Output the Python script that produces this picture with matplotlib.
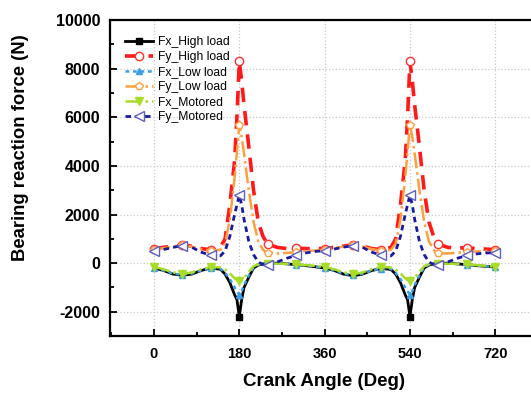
import matplotlib.pyplot as plt
from matplotlib.ticker import MultipleLocator

plt.rcParams['font.family'] = ['Liberation Sans', 'DejaVu Sans']
plt.rcParams['axes.unicode_minus'] = False

# crank angle (deg), finer near firing peaks
angle = [0, 20, 40, 60, 80, 100, 120, 140, 150, 160, 170, 175, 180, 185, 190, 200, 210, 220,
         230, 240, 260, 280, 300, 320, 340, 360,
         380, 400, 420, 440, 460, 480, 500, 510, 520, 530, 535, 540, 545, 550, 560, 570, 580,
         590, 600, 620, 640, 660, 680, 700, 720]

fx_high = [-200, -300, -450, -500, -450, -300, -200, -250, -450, -800, -1300, -1500, -2200,
           -1500, -1000, -580, -200, -80, -30, 0, 0, -30, -60, -100, -150, -200,
           -300, -450, -520, -450, -300, -220, -260, -450, -800, -1300, -1500, -2200, -1500,
           -1000, -580, -200, -80, -30, 0, 0, -30, -60, -100, -130, -160]
fy_high = [600, 650, 700, 750, 700, 600, 550, 650, 1000, 2400, 4200, 6000, 8300, 7500, 6500,
           4800, 3000, 1700, 1100, 780, 650, 600, 620, 600, 600, 600,
           650, 700, 760, 700, 600, 550, 650, 1000, 2400, 4200, 6000, 8300, 7500, 6500, 4800,
           3000, 1700, 1100, 780, 650, 620, 640, 600, 580, 550]
fx_low = [-200, -300, -430, -480, -430, -300, -200, -230, -400, -650, -1000, -1150, -1300,
          -1150, -900, -500, -180, -60, -20, 0, 0, -30, -60, -100, -150, -200,
          -300, -430, -500, -430, -300, -220, -230, -400, -650, -1000, -1150, -1300, -1150,
          -900, -500, -180, -60, -20, 0, 0, -30, -60, -100, -130, -160]
fy_low = [550, 620, 680, 730, 680, 580, 500, 550, 800, 1800, 3500, 4600, 5700, 5200, 4500,
          3000, 1700, 900, 550, 400, 400, 420, 450, 500, 520, 550,
          620, 680, 740, 680, 580, 500, 550, 800, 1800, 3500, 4600, 5700, 5200, 4500, 3000,
          1700, 900, 550, 400, 400, 430, 450, 480, 500, 500]
fx_mot = [-150, -250, -380, -450, -380, -250, -150, -180, -260, -420, -620, -700, -750, -720,
          -600, -350, -130, -40, -20, -30, -20, -30, -50, -80, -110, -150,
          -250, -380, -460, -380, -250, -150, -180, -260, -420, -620, -700, -750, -720, -600,
          -350, -130, -40, -20, -30, -20, -30, -50, -80, -110, -150]
fy_mot = [500, 560, 650, 720, 650, 450, 320, 300, 500, 1100, 2000, 2400, 2800, 2400, 1800,
          900, 350, 50, -60, -80, 50, 200, 320, 420, 480, 520,
          580, 660, 720, 650, 450, 320, 300, 500, 1100, 2000, 2400, 2800, 2400, 1800, 900,
          350, 50, -60, -80, 50, 200, 320, 380, 420, 430]

marks = [angle.index(a) for a in range(0, 721, 60)]
peaks = [angle.index(180), angle.index(540)]

fig = plt.figure(figsize=(5.31, 3.94), dpi=100)
ax = fig.add_axes([0.207, 0.147, 0.806, 0.802])

ax.plot(angle, fx_high, color='black', lw=2, ls='-', marker='s', ms=5,
        markevery=peaks, label='Fx_High load')
ax.plot(angle, fy_high, color='#ff1a1a', lw=2.6, ls=(0, (4, 2.5)), marker='o', ms=6,
        mfc='white', mec='#ff3030', markevery=marks, label='Fy_High load')
ax.plot(angle, fx_low, color='#3a9ee8', lw=1.8, ls=(0, (1.5, 1.5)), marker='^', ms=5,
        markevery=marks, label='Fx_Low load')
ax.plot(angle, fy_low, color='#ffa040', lw=1.8, ls='-.', marker='p', ms=6, mfc='white',
        mec='#ffa040', markevery=marks, label='Fy_Low load')
ax.plot(angle, fx_mot, color='#a8dc28', lw=1.8, ls='-.', marker='v', ms=6,
        markevery=marks, label='Fx_Motored')
ax.plot(angle, fy_mot, color='#1a1aa0', lw=2, ls=(0, (2, 1.5)), marker='<', ms=7,
        mfc='white', mec='#6060c0', markevery=marks, label='Fy_Motored')

ax.set_xlim(-93, 810)
ax.set_ylim(-3000, 10000)
ax.xaxis.set_major_locator(MultipleLocator(180))
ax.xaxis.set_minor_locator(MultipleLocator(90))
ax.yaxis.set_major_locator(MultipleLocator(2000))
ax.yaxis.set_minor_locator(MultipleLocator(1000))
ax.tick_params(which='both', direction='in', width=1.3)
ax.tick_params(which='major', length=5)
ax.tick_params(which='minor', length=3)
ax.tick_params(axis='x', labelsize=10.5, pad=8)
ax.tick_params(axis='y', labelsize=11.5, pad=7)
for lbl in ax.get_xticklabels() + ax.get_yticklabels():
    lbl.set_fontweight('bold')
for s in ax.spines.values():
    s.set_linewidth(1.6)
ax.grid(True, which='major', ls=':', color='#c8c8c8', lw=0.9)

ax.set_xlabel('Crank Angle (Deg)', fontsize=13.5, fontweight='bold')
ax.set_ylabel('Bearing reaction force (N)', fontsize=13.3, fontweight='bold')
ax.xaxis.set_label_coords(0.5, -0.118)
ax.yaxis.set_label_coords(-0.19, 0.595)

ax.legend(loc='upper left', bbox_to_anchor=(0.035, 0.949), frameon=False, fontsize=8.7,
          handlelength=2.3, handletextpad=0.4, labelspacing=0.25, borderaxespad=0,
          borderpad=0)

fig.savefig('out.png', dpi=100)
